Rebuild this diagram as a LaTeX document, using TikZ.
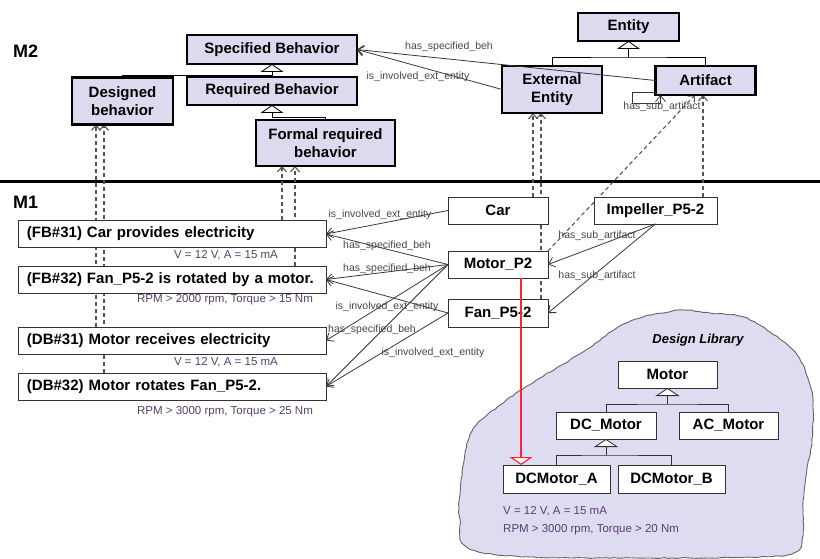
\documentclass[tikz,border=0pt]{standalone}
\usepackage{fontspec}
\setmainfont{Liberation Sans}
\usetikzlibrary{arrows.meta,calc,decorations.pathmorphing}
\pgfdeclarelayer{background}
\pgfsetlayers{background,main}
\definecolor{lav}{RGB}{221,218,240}
\definecolor{blobfill}{RGB}{222,220,241}
\definecolor{blobline}{RGB}{100,100,100}
\definecolor{linkc}{RGB}{55,55,55}
\definecolor{dashc}{RGB}{85,85,85}
\definecolor{subc}{RGB}{88,62,110}
\definecolor{labc}{RGB}{70,70,70}
\definecolor{redc}{RGB}{250,40,40}
\definecolor{boxline}{RGB}{50,50,50}
\tikzset{
  m2box/.style={draw=black, line width=2.6pt, fill=lav, inner sep=0pt, outer sep=0pt, align=center, font=\bfseries\fontsize{15}{18}\selectfont, text=black},
  m1box/.style={draw=boxline, line width=0.9pt, fill=white, inner sep=0pt, outer sep=0pt, align=center, font=\bfseries\fontsize{15}{18}\selectfont, text=black},
  behbox/.style={m1box, text width=290pt, inner xsep=9pt, align=left, minimum height=27pt},
  link/.style={draw=linkc, line width=0.8pt, -{Straight Barb[length=6pt,width=10pt]}},
  inst/.style={draw=dashc, line width=1.1pt, dash pattern=on 4pt off 3pt, -{Straight Barb[length=5pt,width=9pt]}},
  gen/.style={draw=black, line width=0.8pt, -{Triangle[length=8pt,width=23pt,fill=white]}},
  treeline/.style={draw=black, line width=0.8pt},
  gentwo/.style={draw=boxline, line width=0.8pt, -{Triangle[length=8pt,width=24pt,fill=white]}},
  treetwo/.style={draw=boxline, line width=0.8pt},
  lab/.style={text=labc, font=\fontsize{10.5}{12}\selectfont, inner sep=0pt},
  sublab/.style={text=subc, font=\fontsize{11.5}{13}\selectfont, inner sep=0pt},
  mlab/.style={font=\bfseries\fontsize{18}{20}\selectfont, inner sep=0pt, anchor=west},
}
\begin{document}
\begin{tikzpicture}[x=1pt,y=-1pt]
\useasboundingbox (0,0) rectangle (820,559);

% Design library blob
\draw[fill=blobfill, draw=blobline, line width=0.9pt, decorate, decoration={random steps, segment length=4pt, amplitude=0.5pt}]
  plot[smooth cycle, tension=0.6] coordinates {(663,313) (683,310) (710,313) (743,317) (770,332) (797,355) (810,385) (813,408) (812,442) (807,468) (803,502) (803,535) (795,552) (760,557) (650,558) (530,557) (468,548) (460,520) (460,495) (470,435) (500,405) (540,378) (583,352) (617,328) (643,317)};

% M2 nodes
\node[mlab] (m2) at (13,51) {M2};
\node[m2box, minimum width=170pt, minimum height=29pt] (sb) at (272,49.5) {Specified Behavior};
\node[m2box, minimum width=101pt, minimum height=47pt] (db) at (122.5,101) {Designed\\behavior};
\node[m2box, minimum width=170pt, minimum height=28pt] (rb) at (272,91) {Required Behavior};
\node[m2box, minimum width=139pt, minimum height=46pt] (fr) at (325.5,143) {Formal required\\behavior};
\node[m2box, minimum width=101pt, minimum height=28pt] (ent) at (628.5,27) {Entity};
\node[m2box, minimum width=100pt, minimum height=47pt] (ee) at (552,89.5) {External\\Entity};
\node[m2box, minimum width=100pt, minimum height=29pt] (art) at (705.5,80.5) {Artifact};

% M1 nodes
\node[mlab] (m1) at (13,202) {M1};
\node[behbox] (fb1) at (172,234) {\mbox{(FB\#31) Car provides electricity}};
\node[behbox] (fb2) at (172,279.5) {\mbox{(FB\#32) Fan\_P5-2 is rotated by a motor.}};
\node[behbox] (db1) at (172,340.5) {\mbox{(DB\#31) Motor receives electricity}};
\node[behbox] (db2) at (172,386.5) {\mbox{(DB\#32) Motor rotates Fan\_P5-2.}};
\node[m1box, minimum width=100pt, minimum height=27pt] (car) at (498,210.5) {Car};
\node[m1box, minimum width=100pt, minimum height=27pt] (mp) at (498,264.5) {Motor\_P2};
\node[m1box, minimum width=100pt, minimum height=28pt] (fan) at (498,313) {Fan\_P5-2};
\node[m1box, minimum width=123pt, minimum height=27pt] (imp) at (655.5,210.5) {Impeller\_P5-2};

% Design library nodes
\node[font=\bfseries\itshape\fontsize{13}{15}\selectfont, inner sep=0pt] (dl) at (698,340) {Design Library};
\node[m1box, minimum width=99pt, minimum height=27pt] (mot) at (667.5,374.5) {Motor};
\node[m1box, minimum width=100pt, minimum height=27pt] (dcm) at (606,425.5) {DC\_Motor};
\node[m1box, minimum width=99pt, minimum height=27pt] (acm) at (728.5,425.5) {AC\_Motor};
\node[m1box, minimum width=107pt, minimum height=28pt] (dma) at (556.5,479) {DCMotor\_A};
\node[m1box, minimum width=107pt, minimum height=28pt] (dmb) at (671.5,479) {DCMotor\_B};

% sub labels
\node[sublab] (s1) at (226,255) {V = 12 V, A = 15 mA};
\node[sublab] (s2) at (225,300) {RPM > 2000 rpm, Torque > 15 Nm};
\node[sublab] (s3) at (226,362) {V = 12 V, A = 15 mA};
\node[sublab] (s4) at (225,412) {RPM > 3000 rpm, Torque > 25 Nm};
\node[sublab, anchor=west] (s5) at (503,511) {V = 12 V, A = 15 mA};
\node[sublab, anchor=west] (s6) at (503,530) {RPM > 3000 rpm, Torque > 20 Nm};

% background: separator and instance-of dashed arrows
\begin{pgfonlayer}{background}
\coordinate (sepl) at (0,182);
\coordinate (sepr) at (820,182);
\draw[line width=3pt] (sepl) -- (sepr);
\coordinate (d1) at ([xshift=-26.5pt]db.south);
\coordinate (d2) at ([xshift=-18.5pt]db.south);
\draw[inst] (d1 |- db1.north) -- (d1);
\draw[inst] (d2 |- db2.north) -- (d2);
\coordinate (f1) at ([xshift=-43.5pt]fr.south);
\coordinate (f2) at ([xshift=-30.5pt]fr.south);
\draw[inst] (f1 |- fb1.north) -- (f1);
\draw[inst] (f2 |- fb2.north) -- (f2);
\coordinate (e1) at ([xshift=-19pt]ee.south);
\coordinate (e2) at ([xshift=-11pt]ee.south);
\draw[inst] (e1 |- car.north) -- (e1);
\draw[inst] (e2 |- fan.north) -- (e2);
\coordinate (a1) at ([xshift=-10.5pt]art.south);
\coordinate (a2) at ([xshift=-2.5pt]art.south);
\draw[inst] (mp.north east) -- (a1);
\draw[inst] (a2 |- imp.north) -- (a2);
\end{pgfonlayer}

% generalization trees
\draw[treeline] (db.north) |- ([yshift=-11pt]sb.south);
\draw[gen] (rb.north) -- (sb.south);
\draw[gen] (fr.north) |- ([yshift=-12pt]rb.south) -- (rb.south);
\draw[treeline] (ee.north) |- ([yshift=-16pt]ent.south) -| (art.north);
\draw[gen] ([yshift=-16pt]ent.south) -- (ent.south);
\draw[treetwo] (dcm.north) |- ([yshift=-16pt]mot.south) -| (acm.north);
\draw[gentwo] ([yshift=-16pt]mot.south) -- (mot.south);
\draw[treetwo] (dma.north) |- ([yshift=-16pt]dcm.south) -| (dmb.north);
\draw[gentwo] ([yshift=-16pt]dcm.south) -- (dcm.south);

% red realization arrow
\coordinate (rs) at ([xshift=23pt]mp.south);
\draw[draw=redc, line width=1.1pt, -{Triangle[length=8pt,width=23pt,fill=white]}] (rs) -- (rs |- dma.north);

% M2 associations
\draw[link] (art.west) -- (sb.east);
\draw[link] (ee.west) -- (sb.east);
\draw[link] ([yshift=3pt]art.south west) -- ++(-23,0) -- ++(0,11) -| ([xshift=5pt]art.south west);

% M1 associations
\draw[link] (car.west) -- (fb1.east);
\draw[link] (mp.west) -- (fb1.east);
\draw[link] (mp.west) -- (fb2.east);
\draw[link] (mp.west) -- (db1.east);
\draw[link] (mp.west) -- (db2.east);
\draw[link] (fan.west) -- (fb2.east);
\draw[link] (fan.west) -- (db2.east);
\draw[link] (imp.south) -- (mp.east);
\draw[link] (imp.south) -- (fan.east);

% association labels
\node[lab] (l1) at (449,47) {has\_specified\_beh};
\node[lab] (l2) at (418,77) {is\_involved\_ext\_entity};
\node[lab] (l3) at (662,107) {has\_sub\_artifact};
\node[lab] (l4) at (380,215) {is\_involved\_ext\_entity};
\node[lab] (l5) at (387,246) {has\_specified\_beh};
\node[lab] (l6) at (387,269) {has\_specified\_beh};
\node[lab] (l7) at (387,307) {is\_involved\_ext\_entity};
\node[lab] (l8) at (372,330) {has\_specified\_beh};
\node[lab] (l9) at (433,353) {is\_involved\_ext\_entity};
\node[lab] (l10) at (597,236) {has\_sub\_artifact};
\node[lab] (l11) at (597,276) {has\_sub\_artifact};
\end{tikzpicture}
\end{document}
